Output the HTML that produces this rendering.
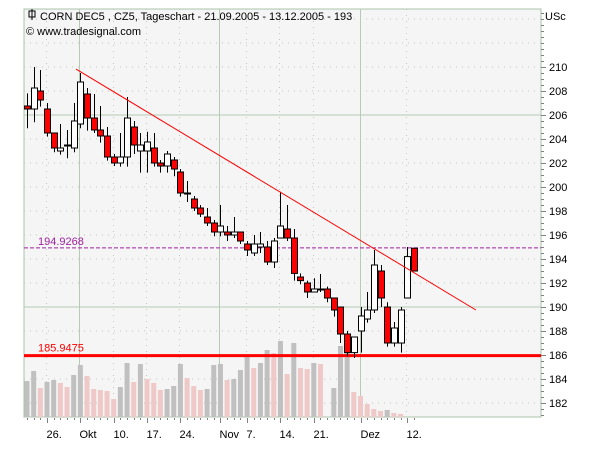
<!DOCTYPE html>
<html><head><meta charset="utf-8"><style>
body{margin:0;background:#fff;}
svg{display:block;font-family:"Liberation Sans",sans-serif;font-size:11px;}
</style></head><body>
<svg id="chart" width="600" height="450" viewBox="0 0 600 450" xmlns="http://www.w3.org/2000/svg">
<rect x="0" y="0" width="600" height="450" fill="#fff"/>
<rect x="24" y="9" width="517" height="408" fill="#f5f5f5" stroke="#a9c3a9" stroke-width="1"/>
<g id="grid"></g>
<g id="vol"></g>
<g id="levels"></g>
<g id="candles"></g>
<g id="trend"></g>
<g id="yaxis"></g>
<g id="xaxis"></g>
<g>
<rect x="29" y="11" width="6" height="6" fill="none" stroke="#000"/>
<line x1="32" y1="9" x2="32" y2="20" stroke="#000"/>
<text x="40" y="20" fill="#000">CORN DEC5       , CZ5, Tageschart - 21.09.2005 - 13.12.2005 - 193</text>
<text x="26" y="35" fill="#000">© www.tradesignal.com</text>
</g>
<text x="545" y="20" fill="#000">USc</text>
</svg>
<script>
const opens  =[206.75,206.5,208,206.5,204.5,203,203.5,203.25,205.25,207.75,205.75,204.75,204.25,202.5,202,202.5,205,203,203,203.25,202,201.75,202.25,201.25,199.5,199,198.25,197.5,197,196.25,196.25,196,196.25,195.25,194.5,195,195,193.75,195.75,196.5,195.75,192.5,192,191.25,191.5,191.5,190.75,190,187.75,186.2,188,189,189.75,193,190,187,187,190.75,194.9];
const highs  =[207.8,210,209.75,207,204.5,205.25,204.75,207,209.5,208.25,207.75,206.75,205,202.75,204.5,207.5,205.5,204.5,204.6,204.5,202.25,203,202.5,201.5,200.5,199.25,198.5,198.25,197.25,198.5,196.75,197.5,196.25,195.5,196,196.25,195.5,195.75,199.6,198.5,196.5,192.8,192.2,192.4,192.75,191.7,190.75,190,188,187.5,190,191.25,194.75,193.5,190.4,188.75,190,195,194.9];
const lows   =[204.9,205.4,206.7,204.2,202.9,202.7,202.4,202.9,204.9,204.7,204.5,203.7,202.2,201.75,201.7,201.7,202.75,201.2,201.2,201.7,201.2,201.2,200.9,199.2,198.75,198,197.5,196.75,195.9,195.9,195.5,195.75,195.25,194.25,194.25,194.5,193.5,193.25,195.75,195.5,192.2,191.9,190.75,191.25,191.25,190.4,189.2,187,185.9,185.75,186.2,188.7,189.5,190,186.7,186.7,186.2,190.75,193];
const closes =[206.5,208.25,207.25,204.5,203.25,203.25,203.5,205.5,208.75,205.75,204.75,204.25,202.5,202,202.5,205.75,203.5,203.5,203.75,202,201.75,202.75,201.5,199.5,199.5,198.25,197.75,197,196.25,196.75,196,196.25,195.5,194.75,195.25,195.25,193.75,195.5,196.75,195.75,192.8,192.2,191.25,191.5,191.5,190.75,189.75,187.75,186.2,187.5,189.25,189.75,193.5,190.75,187,188.25,189.75,194.2,193];
const volumes=[36,46,29,35,37,34,30,42,52,41,28,27,26,18,30,54,35,53,38,34,27,28,31,53,39,31,27,28,52,53,37,38,47,61,49,54,67,64,76,43,74,49,48,54,53,0,29,71,75,25,21,13,8,6,7,4,3,0,0];
const volGray=[1,1,0,1,1,0,0,1,1,0,0,0,0,0,1,1,0,1,0,0,0,1,1,1,0,0,0,1,1,1,0,1,1,1,0,1,1,0,1,0,1,0,0,1,0,0,1,1,1,0,0,0,0,0,1,0,0,0,0];
const yTicks=[182,184,186,188,190,192,194,196,198,200,202,204,206,208,210];
const xLabels=["26.","Okt","10.","17.","24.","Nov","7.","14.","21.","Dez","12."];
const xLabelIdx=[3,8,13,18,23,29,33,38,43,50,57];
const levelA=194.9268, levelB=185.9475;
const trendStart=[7.35,209.83], trendEnd=[67.3,189.75];

const NS="http://www.w3.org/2000/svg";
const X0=27, DX=6.67, P0=186, Y0=355, PY=12, VBASE=417, PLOTL=24, PLOTR=541, PLOTT=9;
const xs=i=>X0+DX*i;
const ys=p=>Y0-(p-P0)*PY;
function mk(tag,attrs,parent){const e=document.createElementNS(NS,tag);for(const k in attrs)e.setAttribute(k,attrs[k]);parent.appendChild(e);return e;}
const G=id=>document.getElementById(id);

// grid
for(const t of yTicks){const y=ys(t);
 const solid=(t===190||t===206);
 const l=mk('line',{x1:PLOTL,x2:PLOTR,y1:y,y2:y,stroke:solid?'#b4cbb4':'#bcc9bc','stroke-width':1,'stroke-dasharray':solid?'':'1,5'},G('grid'));
 
 
}
for(const t of [212,214]){const y=ys(t);
 const l=mk('line',{x1:PLOTL,x2:PLOTR,y1:y,y2:y,stroke:'#bcc9bc','stroke-dasharray':'1,5'},G('grid'));
 
 
}
xLabelIdx.forEach((idx,k)=>{const x=Math.round(xs(idx))-0.5;
 const solid=["Okt","Nov","Dez"].includes(xLabels[k]);
 const l=mk('line',{x1:x,x2:x,y1:PLOTT,y2:VBASE,stroke:solid?'#b4cbb4':'#bcc9bc','stroke-dasharray':solid?'':'1,5'},G('grid'));
 
 
});

// volume
volumes.forEach((v,i)=>{if(!v)return;const x=xs(i)-2.5;
 const r=mk('rect',{x:x,y:VBASE-v,width:5,height:v,fill:volGray[i]?'#c0c0c0':'#efc8c8'},G('vol'));
 
 
});

// levels
{const y=ys(levelA);
 const l=mk('line',{x1:PLOTL,x2:PLOTR,y1:y,y2:y,stroke:'#a020a0','stroke-width':1,'stroke-dasharray':'4,2'},G('levels'));
 
 
 const t=mk('text',{x:38,y:y-3,fill:'#a020a0'},G('levels'));t.textContent=levelA.toFixed(4);
 
 
 const y2=ys(levelB);
 const l2=mk('line',{x1:PLOTL,x2:PLOTR,y1:y2,y2:y2,stroke:'#ff0000','stroke-width':3},G('levels'));
 
 
 const t2=mk('text',{x:38,y:y2-4,fill:'#ff0000'},G('levels'));t2.textContent=levelB.toFixed(4);
 
 
}

// candles
opens.forEach((o,i)=>{const c=closes[i],x=Math.round(xs(i))+0.5;
 const w=mk('line',{x1:x,x2:x,y1:ys(highs[i]),y2:ys(lows[i]),stroke:'#000','stroke-width':1},G('candles'));
 
 
 const top=ys(Math.max(o,c)),bot=ys(Math.min(o,c));
 const r=mk('rect',{x:x-3,y:top,width:6,height:Math.max(1,bot-top),fill:c<o?'#ff0000':'#ffffff',stroke:'#000','stroke-width':1},G('candles'));
 
 
});

// trend
{const l=mk('line',{x1:xs(trendStart[0]),y1:ys(trendStart[1]),x2:xs(trendEnd[0]),y2:ys(trendEnd[1]),stroke:'#ff0000','stroke-width':1},G('trend'));
 
 
}

// y axis
for(let p=181;p<=215;p+=0.5){const y=Math.round(ys(p))+0.5;if(y<PLOTT||y>VBASE)continue;
 const major=yTicks.includes(p);
 const t=mk('line',{x1:PLOTR,x2:PLOTR+(major?5:3),y1:y,y2:y,stroke:'#808080'},G('yaxis'));
 
 
}
yTicks.forEach(p=>{const t=mk('text',{x:549,y:ys(p)+4,fill:'#000'},G('yaxis'));t.textContent=p;
 
 
});

// x axis
opens.forEach((o,i)=>{const x=Math.round(xs(i))+0.5;
 const t=mk('line',{x1:x,x2:x,y1:VBASE+1,y2:VBASE+3,stroke:'#808080'},G('xaxis'));
 
 
});
xLabelIdx.forEach((idx,k)=>{const x=Math.round(xs(idx))+0.5;
 const tk=mk('line',{x1:x,x2:x,y1:VBASE+1,y2:VBASE+6,stroke:'#808080'},G('xaxis'));
 
 
 const t=mk('text',{x:x-1,y:438,fill:'#000'},G('xaxis'));t.textContent=xLabels[k];
 
 
});
</script>
</body></html>
